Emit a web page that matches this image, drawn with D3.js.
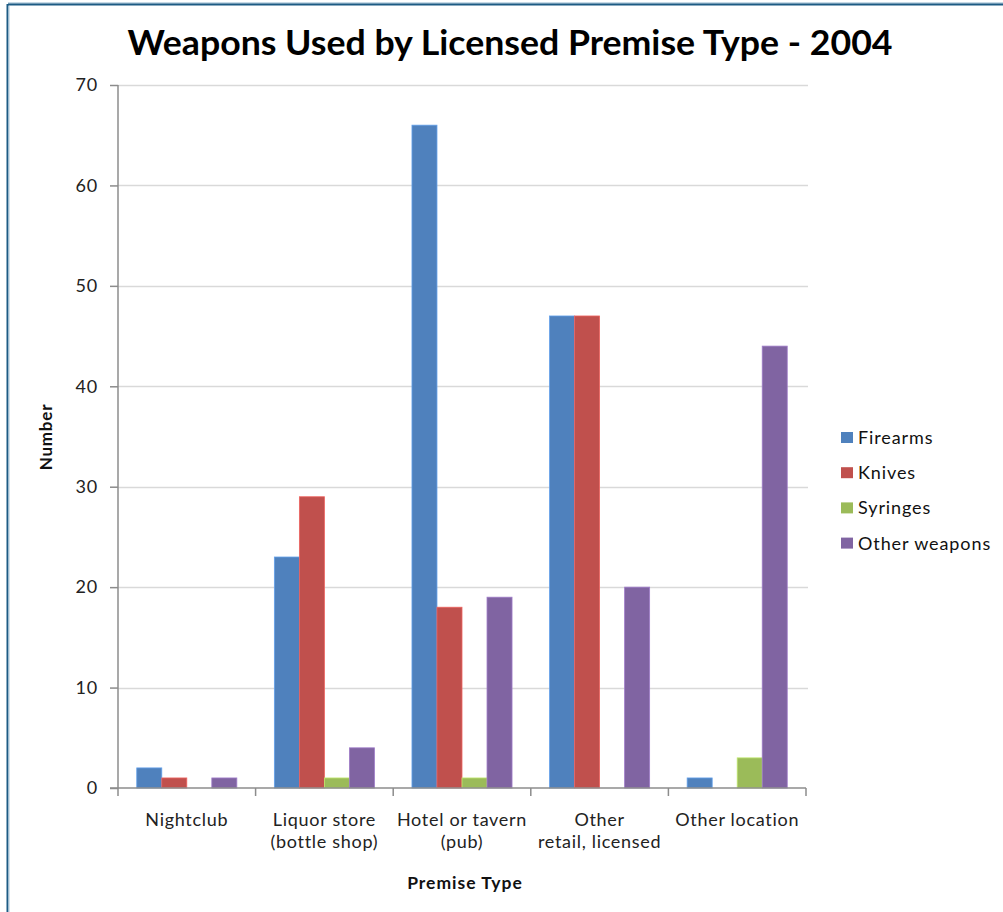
<!DOCTYPE html>
<html>
<head>
<meta charset="utf-8">
<script src="https://cdn.jsdelivr.net/npm/d3@7/dist/d3.min.js"></script>
<style>
  html, body { margin: 0; padding: 0; background: #ffffff; }
  svg { display: block; }
  text { font-family: Lato, "Open Sans", sans-serif; }
</style>
</head>
<body>
<svg id="chart" width="1003" height="912"></svg>
<script>
// Premise categories (line breaks as shown under the axis)
const categories = [
  ["Nightclub"],
  ["Liquor store", "(bottle shop)"],
  ["Hotel or tavern", "(pub)"],
  ["Other", "retail, licensed"],
  ["Other location"]
];
const seriesNames = ["Firearms", "Knives", "Syringes", "Other weapons"];
const seriesColors = ["#4f81bd", "#c0504d", "#9bbb59", "#8064a2"];
const firearms = [2, 23, 66, 47, 1];
const knives = [1, 29, 18, 47, 0];
const syringes = [0, 1, 1, 0, 3];
const otherWeapons = [1, 4, 19, 20, 44];
const yTicks = [0, 10, 20, 30, 40, 50, 60, 70];

const seriesValues = [firearms, knives, syringes, otherWeapons];

const svg = d3.select("#chart");

// frame lines along the top and left edges
svg.append("line").attr("x1", 8).attr("x2", 1003).attr("y1", 3).attr("y2", 3)
  .attr("stroke", "#8fb4cc").attr("stroke-width", 1);
svg.append("line").attr("x1", 8).attr("x2", 1003).attr("y1", 4.5).attr("y2", 4.5)
  .attr("stroke", "#1d5b84").attr("stroke-width", 2);
svg.append("line").attr("x1", 7.5).attr("x2", 7.5).attr("y1", 4).attr("y2", 912)
  .attr("stroke", "#1d5b84").attr("stroke-width", 2);
svg.append("line").attr("x1", 9).attr("x2", 9).attr("y1", 6).attr("y2", 912)
  .attr("stroke", "#a9c6d8").attr("stroke-width", 1);

const plot = { left: 118, right: 806, top: 85, bottom: 788 };

const x = d3.scaleBand()
  .domain(d3.range(categories.length))
  .range([plot.left, plot.right])
  .paddingInner(0).paddingOuter(0);

const inner = d3.scaleBand()
  .domain(d3.range(seriesNames.length))
  .range([0, x.bandwidth()])
  .paddingInner(0)
  .paddingOuter(0.75); // 150% gap split on both sides

const y = d3.scaleLinear().domain([0, 70]).range([plot.bottom, plot.top]);

// horizontal gridlines
svg.append("g")
  .selectAll("line")
  .data(yTicks.filter(d => d > 0))
  .join("line")
  .attr("x1", plot.left).attr("x2", plot.right + 2)
  .attr("y1", d => Math.round(y(d)) + 0.5).attr("y2", d => Math.round(y(d)) + 0.5)
  .attr("stroke", "#d9d9d9").attr("stroke-width", 1.5);

// bars
const groups = svg.append("g")
  .selectAll("g")
  .data(categories.map((c, i) => i))
  .join("g")
  .attr("transform", i => `translate(${x(i)},0)`);

groups.selectAll("rect")
  .data(i => seriesValues.map((vals, s) => ({ s, v: vals[i] })))
  .join("rect")
  .attr("x", d => inner(d.s))
  .attr("width", inner.bandwidth())
  .attr("y", d => y(d.v))
  .attr("height", d => y(0) - y(d.v))
  .attr("fill", d => seriesColors[d.s])
  .attr("stroke", d => d3.color(seriesColors[d.s]).brighter(0.6))
  .attr("stroke-width", d => d.v > 0 ? 0.8 : 0);

// y axis
const yAxis = d3.axisLeft(y)
  .tickValues(yTicks)
  .tickSize(8)
  .tickPadding(12)
  .tickFormat(d3.format("d"));
const gy = svg.append("g")
  .attr("transform", `translate(${plot.left},0)`)
  .call(yAxis);
gy.select(".domain").attr("stroke", "#8c8c8c").attr("stroke-width", 1.5)
  .attr("d", `M0,${plot.top}V${plot.bottom}`);
gy.selectAll(".tick line").attr("stroke", "#8c8c8c").attr("stroke-width", 1.5);
gy.selectAll(".tick text")
  .attr("font-size", 18).attr("letter-spacing", 0.8)
  .attr("fill", "#222").attr("font-family", "Lato, sans-serif");

// x axis
const xAxis = d3.axisBottom(x).tickSize(0).tickFormat("");
const gx = svg.append("g")
  .attr("transform", `translate(0,${plot.bottom})`)
  .call(xAxis);
gx.select(".domain").attr("stroke", "#8c8c8c").attr("stroke-width", 1.5)
  .attr("d", `M${plot.left - 8},0H${plot.right}`);
// category divider ticks
gx.append("g").selectAll("line")
  .data(d3.range(categories.length + 1))
  .join("line")
  .attr("x1", i => plot.left + i * x.step())
  .attr("x2", i => plot.left + i * x.step())
  .attr("y1", 0).attr("y2", 8)
  .attr("stroke", "#8c8c8c").attr("stroke-width", 1.5);

// category labels
const catLabels = svg.append("g")
  .selectAll("text")
  .data(categories.map((c, i) => ({ c, i })))
  .join("text")
  .attr("text-anchor", "middle")
  .attr("font-size", 18)
  .attr("letter-spacing", 0.7)
  .attr("fill", "#222")
  .attr("x", d => x(d.i) + x.bandwidth() / 2)
  .attr("y", 826);
catLabels.selectAll("tspan")
  .data(d => d.c.map((line, k) => ({ line, k, cx: x(d.i) + x.bandwidth() / 2 })))
  .join("tspan")
  .attr("x", d => d.cx)
  .attr("dy", d => d.k === 0 ? 0 : 22)
  .text(d => d.line);

// axis titles
svg.append("text")
  .attr("transform", "translate(52,437) rotate(-90)")
  .attr("text-anchor", "middle")
  .attr("font-size", 17).attr("letter-spacing", 0.8)
  .attr("font-weight", "bold").attr("fill", "#111")
  .text("Number");

svg.append("text")
  .attr("x", 465).attr("y", 889)
  .attr("text-anchor", "middle")
  .attr("font-size", 17.5).attr("letter-spacing", 1)
  .attr("font-weight", "bold").attr("fill", "#111")
  .text("Premise Type");

// title
svg.append("text")
  .attr("x", 510).attr("y", 55)
  .attr("text-anchor", "middle")
  .attr("font-size", 34).attr("font-weight", "bold").attr("fill", "#000")
  .attr("textLength", 765).attr("lengthAdjust", "spacingAndGlyphs")
  .text("Weapons Used by Licensed Premise Type - 2004");

// legend
const legend = svg.append("g")
  .selectAll("g")
  .data(seriesNames.map((n, i) => ({ n, i })))
  .join("g")
  .attr("transform", d => `translate(841,${438 + d.i * 35.2})`);
legend.append("rect")
  .attr("x", 0).attr("y", -6).attr("width", 12).attr("height", 11)
  .attr("fill", d => seriesColors[d.i]);
legend.append("text")
  .attr("x", 17).attr("y", 6)
  .attr("font-size", 18).attr("letter-spacing", 0.9)
  .attr("fill", "#111")
  .text(d => d.n);
</script>
</body>
</html>
